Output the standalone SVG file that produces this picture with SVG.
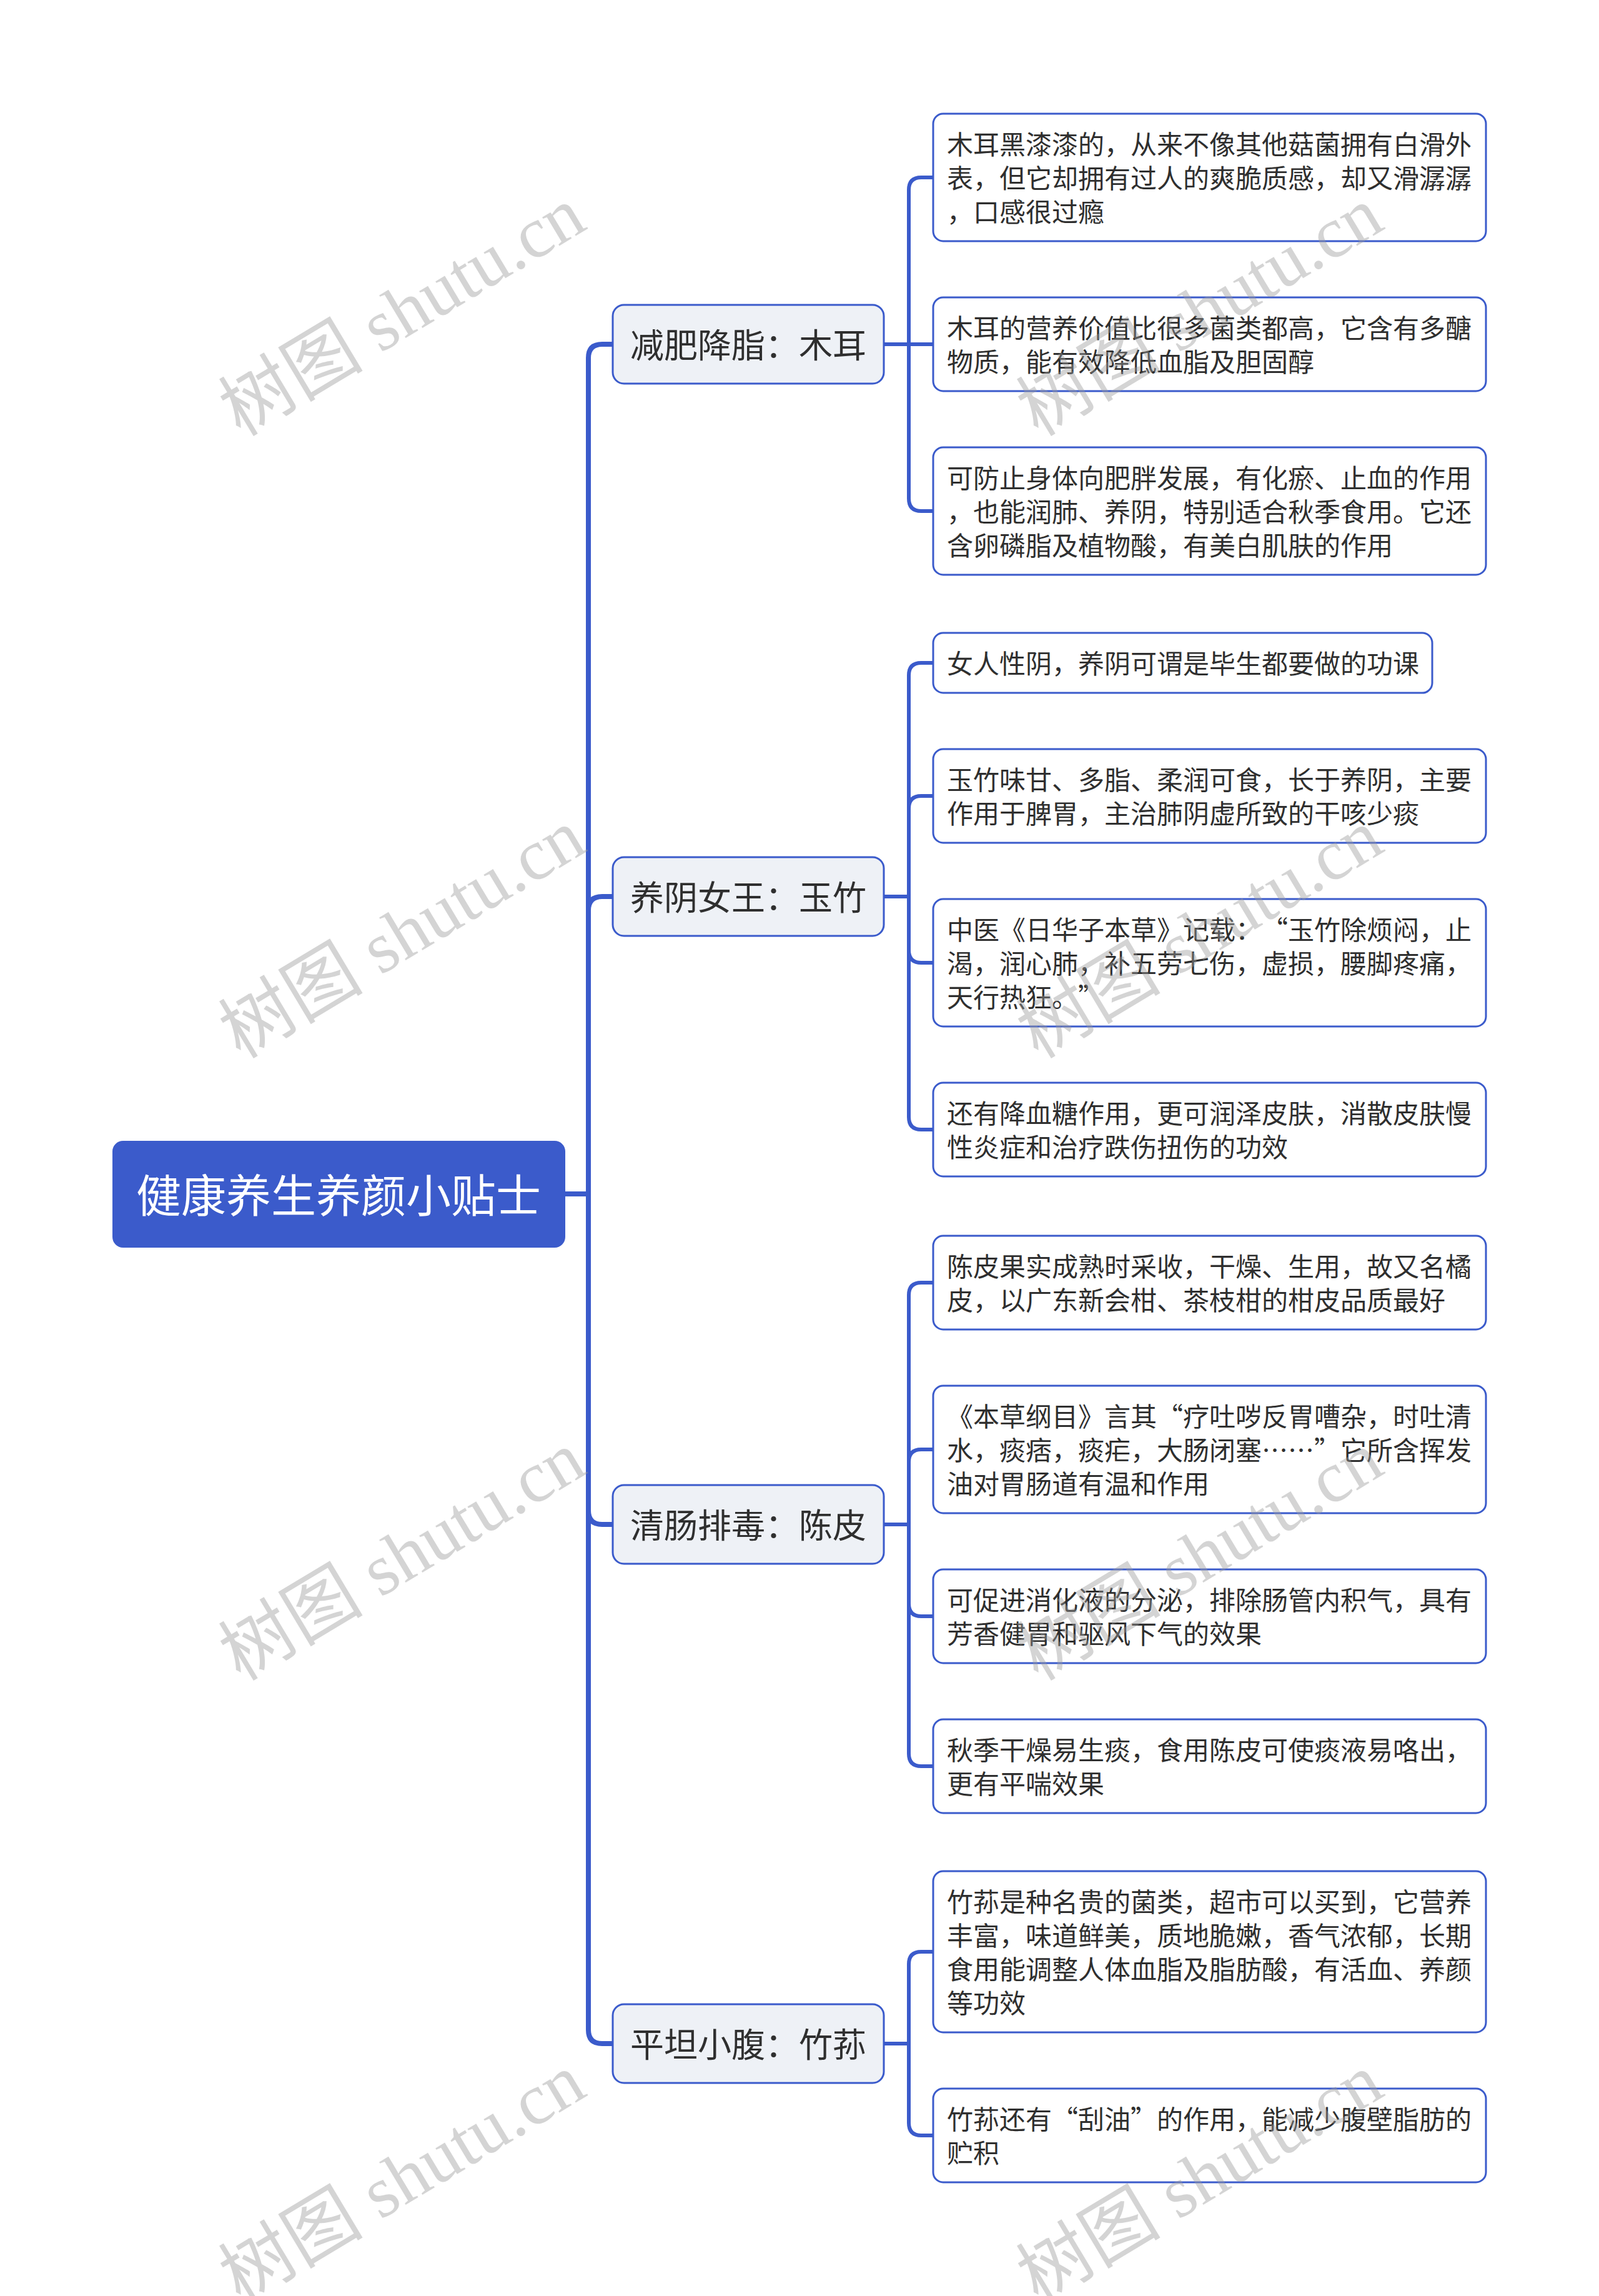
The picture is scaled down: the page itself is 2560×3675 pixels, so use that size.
<svg xmlns="http://www.w3.org/2000/svg" width="2560" height="3675" viewBox="0 0 2560 3675">
<style>
.bg{fill:#ffffff}
.root{fill:#3b5bcb}
.cat{fill:#eef1f6;stroke:#3b5bcb;stroke-width:3}
.leaf{fill:#ffffff;stroke:#3b5bcb;stroke-width:3}
.l1{fill:none;stroke:#3b5bcb;stroke-width:8;stroke-linejoin:round}
.l2{fill:none;stroke:#3b5bcb;stroke-width:6;stroke-linejoin:round}
text{font-family:"Noto Sans CJK SC","Noto Sans",sans-serif;dominant-baseline:central;text-spacing-trim:space-all}
.rt{fill:#ffffff;font-size:72px;text-anchor:middle}
.ct{fill:#2f2f2f;font-size:54px;text-anchor:middle}
.lt{fill:#2f2f2f;font-size:42px}
.wm{font-family:"Liberation Serif","Noto Sans CJK SC",serif;font-size:116px;fill:#9a9a9a;opacity:0.42;dominant-baseline:alphabetic}
</style>
<rect class="bg" x="0" y="0" width="2560" height="3675"/>
<g id="connectors">
<path class="l1" d="M905 1911 H942 V573 Q942 551 964 551 H981"/>
<path class="l1" d="M905 1911 H942 V1457 Q942 1435 964 1435 H981"/>
<path class="l1" d="M905 1911 H942 V2418 Q942 2440 964 2440 H981"/>
<path class="l1" d="M905 1911 H942 V3249 Q942 3271 964 3271 H981"/>
<path class="l2" d="M1415 551 H1455 V304 Q1455 284 1475 284 H1494"/>
<path class="l2" d="M1415 551 H1494"/>
<path class="l2" d="M1415 551 H1455 V798 Q1455 818 1475 818 H1494"/>
<path class="l2" d="M1415 1435 H1455 V1081 Q1455 1061 1475 1061 H1494"/>
<path class="l2" d="M1415 1435 H1455 V1294 Q1455 1274 1475 1274 H1494"/>
<path class="l2" d="M1415 1435 H1455 V1521 Q1455 1541 1475 1541 H1494"/>
<path class="l2" d="M1415 1435 H1455 V1788 Q1455 1808 1475 1808 H1494"/>
<path class="l2" d="M1415 2440 H1455 V2073 Q1455 2053 1475 2053 H1494"/>
<path class="l2" d="M1415 2440 H1455 V2340 Q1455 2320 1475 2320 H1494"/>
<path class="l2" d="M1415 2440 H1455 V2567 Q1455 2587 1475 2587 H1494"/>
<path class="l2" d="M1415 2440 H1455 V2807 Q1455 2827 1475 2827 H1494"/>
<path class="l2" d="M1415 3271 H1455 V3144 Q1455 3124 1475 3124 H1494"/>
<path class="l2" d="M1415 3271 H1455 V3398 Q1455 3418 1475 3418 H1494"/>
</g>
<g id="root">
<rect class="root" x="180" y="1826" width="725" height="171" rx="17"/>
<text class="rt" x="542" y="1908">健康养生养颜小贴士</text>
</g>
<g id="cat1">
<rect class="cat" x="981" y="488" width="434" height="126" rx="18"/>
<text class="ct" x="1198" y="549">减肥降脂：木耳</text>
</g>
<g id="cat2">
<rect class="cat" x="981" y="1372" width="434" height="126" rx="18"/>
<text class="ct" x="1198" y="1433">养阴女王：玉竹</text>
</g>
<g id="cat3">
<rect class="cat" x="981" y="2377" width="434" height="126" rx="18"/>
<text class="ct" x="1198" y="2438">清肠排毒：陈皮</text>
</g>
<g id="cat4">
<rect class="cat" x="981" y="3208" width="434" height="126" rx="18"/>
<text class="ct" x="1198" y="3269">平坦小腹：竹荪</text>
</g>
<g id="leaf1-1">
<rect class="leaf" x="1494" y="182" width="885" height="204" rx="16"/>
<text class="lt"><tspan x="1516" y="228">木耳黑漆漆的，从来不像其他菇菌拥有白滑外</tspan><tspan x="1516" y="282">表，但它却拥有过人的爽脆质感，却又滑潺潺</tspan><tspan x="1516" y="336">，口感很过瘾</tspan></text>
</g>
<g id="leaf1-2">
<rect class="leaf" x="1494" y="476" width="885" height="150" rx="16"/>
<text class="lt"><tspan x="1516" y="522">木耳的营养价值比很多菌类都高，它含有多醣</tspan><tspan x="1516" y="576">物质，能有效降低血脂及胆固醇</tspan></text>
</g>
<g id="leaf1-3">
<rect class="leaf" x="1494" y="716" width="885" height="204" rx="16"/>
<text class="lt"><tspan x="1516" y="762">可防止身体向肥胖发展，有化瘀、止血的作用</tspan><tspan x="1516" y="816">，也能润肺、养阴，特别适合秋季食用。它还</tspan><tspan x="1516" y="870">含卵磷脂及植物酸，有美白肌肤的作用</tspan></text>
</g>
<g id="leaf2-1">
<rect class="leaf" x="1494" y="1013" width="799" height="96" rx="16"/>
<text class="lt"><tspan x="1516" y="1059">女人性阴，养阴可谓是毕生都要做的功课</tspan></text>
</g>
<g id="leaf2-2">
<rect class="leaf" x="1494" y="1199" width="885" height="150" rx="16"/>
<text class="lt"><tspan x="1516" y="1245">玉竹味甘、多脂、柔润可食，长于养阴，主要</tspan><tspan x="1516" y="1299">作用于脾胃，主治肺阴虚所致的干咳少痰</tspan></text>
</g>
<g id="leaf2-3">
<rect class="leaf" x="1494" y="1439" width="885" height="204" rx="16"/>
<text class="lt"><tspan x="1516" y="1485">中医《日华子本草》记载：“玉竹除烦闷，止</tspan><tspan x="1516" y="1539">渴，润心肺，补五劳七伤，虚损，腰脚疼痛，</tspan><tspan x="1516" y="1593">天行热狂。”</tspan></text>
</g>
<g id="leaf2-4">
<rect class="leaf" x="1494" y="1733" width="885" height="150" rx="16"/>
<text class="lt"><tspan x="1516" y="1779">还有降血糖作用，更可润泽皮肤，消散皮肤慢</tspan><tspan x="1516" y="1833">性炎症和治疗跌伤扭伤的功效</tspan></text>
</g>
<g id="leaf3-1">
<rect class="leaf" x="1494" y="1978" width="885" height="150" rx="16"/>
<text class="lt"><tspan x="1516" y="2024">陈皮果实成熟时采收，干燥、生用，故又名橘</tspan><tspan x="1516" y="2078">皮，以广东新会柑、茶枝柑的柑皮品质最好</tspan></text>
</g>
<g id="leaf3-2">
<rect class="leaf" x="1494" y="2218" width="885" height="204" rx="16"/>
<text class="lt"><tspan x="1516" y="2264">《本草纲目》言其“疗吐哕反胃嘈杂，时吐清</tspan><tspan x="1516" y="2318">水，痰痞，痰疟，大肠闭塞……”它所含挥发</tspan><tspan x="1516" y="2372">油对胃肠道有温和作用</tspan></text>
</g>
<g id="leaf3-3">
<rect class="leaf" x="1494" y="2512" width="885" height="150" rx="16"/>
<text class="lt"><tspan x="1516" y="2558">可促进消化液的分泌，排除肠管内积气，具有</tspan><tspan x="1516" y="2612">芳香健胃和驱风下气的效果</tspan></text>
</g>
<g id="leaf3-4">
<rect class="leaf" x="1494" y="2752" width="885" height="150" rx="16"/>
<text class="lt"><tspan x="1516" y="2798">秋季干燥易生痰，食用陈皮可使痰液易咯出，</tspan><tspan x="1516" y="2852">更有平喘效果</tspan></text>
</g>
<g id="leaf4-1">
<rect class="leaf" x="1494" y="2995" width="885" height="258" rx="16"/>
<text class="lt"><tspan x="1516" y="3041">竹荪是种名贵的菌类，超市可以买到，它营养</tspan><tspan x="1516" y="3095">丰富，味道鲜美，质地脆嫩，香气浓郁，长期</tspan><tspan x="1516" y="3149">食用能调整人体血脂及脂肪酸，有活血、养颜</tspan><tspan x="1516" y="3203">等功效</tspan></text>
</g>
<g id="leaf4-2">
<rect class="leaf" x="1494" y="3343" width="885" height="150" rx="16"/>
<text class="lt"><tspan x="1516" y="3389">竹荪还有“刮油”的作用，能减少腹壁脂肪的</tspan><tspan x="1516" y="3443">贮积</tspan></text>
</g>
<g id="watermarks">
<text class="wm" transform="translate(385 700) rotate(-31)">树图 shutu.cn</text>
<text class="wm" transform="translate(385 1696) rotate(-31)">树图 shutu.cn</text>
<text class="wm" transform="translate(385 2692) rotate(-31)">树图 shutu.cn</text>
<text class="wm" transform="translate(385 3688) rotate(-31)">树图 shutu.cn</text>
<text class="wm" transform="translate(1662 700) rotate(-31)">树图 shutu.cn</text>
<text class="wm" transform="translate(1662 1696) rotate(-31)">树图 shutu.cn</text>
<text class="wm" transform="translate(1662 2692) rotate(-31)">树图 shutu.cn</text>
<text class="wm" transform="translate(1662 3688) rotate(-31)">树图 shutu.cn</text>
</g>
</svg>
